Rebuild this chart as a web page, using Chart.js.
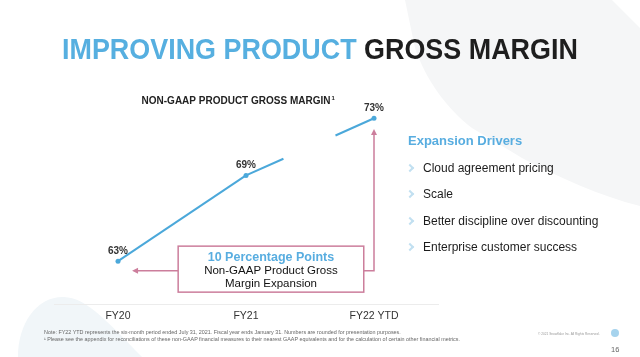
<!DOCTYPE html>
<html><head><meta charset="utf-8">
<script src="https://cdn.jsdelivr.net/npm/chart.js@4/dist/chart.umd.min.js"></script>
<style>
html,body{margin:0;padding:0;background:#fff;}
#wrap{position:relative;width:640px;height:357px;overflow:hidden;font-family:"Liberation Sans",Arial,sans-serif;}
#bg{position:absolute;left:0;top:0;}
#c{position:absolute;left:0;top:0;}
.t{position:absolute;white-space:nowrap;}
.chev{position:absolute;width:4px;height:4px;border-top:2px solid #c2e0f1;border-right:2px solid #c2e0f1;transform:rotate(45deg);}
</style></head><body>
<div id="wrap">
<svg id="bg" width="640" height="357">
  <path d="M405,0 L640,0 L640,206 C600,196 560,178 522,158 L472,128 C446,108 426,80 415,48 Z" fill="#f5f6f7"/>
  <path d="M612,0 L640,0 L640,28 Z" fill="#ffffff"/>
  <path d="M18,357 C18,322 38,296 64,297 C86,298 104,318 142,357 Z" fill="#f1f6f9"/>
</svg>
<canvas id="c" width="640" height="357"></canvas>
<div id="title" class="t" style="left:62px;top:35px;font-size:29px;line-height:29px;font-weight:bold;transform-origin:0 0;"><span style="color:#56afe0">IMPROVING PRODUCT</span> <span style="color:#1e1e1e">GROSS MARGIN</span></div>
</div>
<script>
// ---- data ----
const categories = ['FY20', 'FY21', 'FY22 YTD'];
const marginValues = [63, 69, 73];
const valueLabels = ['63%', '69%', '73%'];
const chartTitle = 'NON-GAAP PRODUCT GROSS MARGIN';
const calloutLines = ['10 Percentage Points', 'Non-GAAP Product Gross', 'Margin Expansion'];
const driversTitle = 'Expansion Drivers';
const drivers = ['Cloud agreement pricing', 'Scale', 'Better discipline over discounting', 'Enterprise customer success'];
const notes = [
  'Note: FY22 YTD represents the six-month period ended July 31, 2021. Fiscal year ends January 31. Numbers are rounded for presentation purposes.',
  '\u00B9 Please see the appendix for reconciliations of these non-GAAP financial measures to their nearest GAAP equivalents and for the calculation of certain other financial metrics.'
];
const copyright = '\u00A9 2021 Snowflake Inc. All Rights Reserved.';
const pageNumber = '16';

// ---- callout geometry in scale units (category index / percent) ----
const callout = { left: 0.47, right: 1.92, top: 64.05, bottom: 60.83, arrowVal: 62.32, leftTip: 0.11, upTip: 72.25 };

const BLUE = '#4ba8da';
const PINK = '#cc7e9c';
const FONT = '"Liberation Sans", Arial, sans-serif';

const wrap = document.getElementById('wrap');
function place(text, x, cy, css, lh) {
  const d = document.createElement('div');
  d.className = 't';
  d.textContent = text;
  d.style.cssText += css;
  d.style.left = x + 'px';
  d.style.lineHeight = lh + 'px';
  d.style.top = (cy - lh / 2) + 'px';
  wrap.appendChild(d);
  return d;
}

// title fit
const tEl = document.getElementById('title');
tEl.style.transform = 'scaleX(' + (516 / tEl.offsetWidth) + ')';

// right-side drivers
place(driversTitle, 408, 141, 'font-size:13px;font-weight:bold;color:#58ade0;', 16);
const driverY = [168, 194, 221, 247];
drivers.forEach((s, i) => {
  place(s, 423, driverY[i], 'font-size:12px;color:#1c1c1c;', 16);
  const c = document.createElement('div');
  c.className = 'chev';
  c.style.left = '407px';
  c.style.top = (driverY[i] - 3) + 'px';
  wrap.appendChild(c);
});

// footnotes
place(notes[0], 44, 332, 'font-size:5.4px;color:#666;', 7);
place(notes[1], 44, 339, 'font-size:5.4px;color:#666;', 7);
place(copyright, 538, 334, 'font-size:3.2px;color:#999;', 5);
place(pageNumber, 611, 349, 'font-size:7.5px;color:#666;', 9);
const logo = document.createElement('div');
logo.style.cssText = 'position:absolute;left:611px;top:329px;width:8px;height:8px;border-radius:50%;background:#a6d3ed;';
wrap.appendChild(logo);

function arrowHead(ctx, x, y, dir) {
  ctx.beginPath();
  if (dir === 'left') { ctx.moveTo(x, y); ctx.lineTo(x + 6, y - 3); ctx.lineTo(x + 6, y + 3); }
  else { ctx.moveTo(x, y); ctx.lineTo(x - 3, y + 6); ctx.lineTo(x + 3, y + 6); }
  ctx.closePath();
  ctx.fill();
}

const overlay = {
  id: 'overlay',
  afterDatasetsDraw(chart) {
    const ctx = chart.ctx;
    const x = chart.scales.x, y = chart.scales.y;
    ctx.save();
    // value labels
    ctx.font = 'bold 10px ' + FONT;
    ctx.fillStyle = '#333';
    ctx.textAlign = 'center';
    ctx.textBaseline = 'middle';
    chart.getDatasetMeta(0).data.forEach((pt, i) => ctx.fillText(valueLabels[i], pt.x, pt.y - 10));
    // chart title
    ctx.font = 'bold 10px ' + FONT;
    ctx.fillStyle = '#222';
    ctx.textAlign = 'left';
    const tw = ctx.measureText(chartTitle).width;
    const tx = 236 - tw / 2;
    ctx.fillText(chartTitle, tx, 101);
    ctx.font = 'bold 6px ' + FONT;
    ctx.fillText('1', tx + tw + 1, 98);
    // callout box
    const bl = x.getPixelForValue(callout.left), br = x.getPixelForValue(callout.right);
    const bt = y.getPixelForValue(callout.top), bb = y.getPixelForValue(callout.bottom);
    const ay = y.getPixelForValue(callout.arrowVal);
    const lt = x.getPixelForValue(callout.leftTip);
    const px2 = x.getPixelForValue(2);
    const ut = y.getPixelForValue(callout.upTip);
    ctx.strokeStyle = PINK;
    ctx.fillStyle = PINK;
    ctx.lineWidth = 1.5;
    ctx.strokeRect(bl, bt, br - bl, bb - bt);
    ctx.beginPath();
    ctx.moveTo(bl, ay); ctx.lineTo(lt + 5, ay);
    ctx.moveTo(br, ay); ctx.lineTo(px2, ay); ctx.lineTo(px2, ut + 5);
    ctx.stroke();
    arrowHead(ctx, lt, ay, 'left');
    arrowHead(ctx, px2, ut, 'up');
    // callout text
    const cx = (bl + br) / 2;
    ctx.textAlign = 'center';
    ctx.font = 'bold 12.5px ' + FONT;
    ctx.fillStyle = '#58ade0';
    ctx.fillText(calloutLines[0], cx, bt + 11);
    ctx.font = '11.5px ' + FONT;
    ctx.fillStyle = '#111';
    ctx.fillText(calloutLines[1], cx, bt + 25);
    ctx.fillText(calloutLines[2], cx, bt + 38);
    ctx.restore();
  }
};

new Chart(document.getElementById('c'), {
  type: 'line',
  data: {
    labels: categories,
    datasets: [{
      data: marginValues,
      borderColor: BLUE,
      backgroundColor: BLUE,
      borderWidth: 2,
      pointRadius: 2.5,
      pointBorderWidth: 0,
      pointBackgroundColor: BLUE,
      tension: 0,
      clip: false,
      segment: { borderDash: c => c.p0DataIndex === 1 ? [41, 57] : undefined }
    }]
  },
  options: {
    responsive: false,
    animation: false,
    devicePixelRatio: 1,
    events: [],
    layout: { padding: { left: 54, right: 202, top: 104, bottom: 0 } },
    plugins: { legend: { display: false }, tooltip: { enabled: false }, title: { display: false } },
    scales: {
      x: {
        offset: true,
        grid: { display: false, drawTicks: false },
        border: { display: true, color: '#ececec', width: 1 },
        ticks: { color: '#333', font: { family: FONT, size: 10.5 }, padding: 6 },
        afterFit: s => { s.height = 53; }
      },
      y: { display: false, min: 60, max: 74 }
    }
  },
  plugins: [overlay]
});
</script>
</body></html>
